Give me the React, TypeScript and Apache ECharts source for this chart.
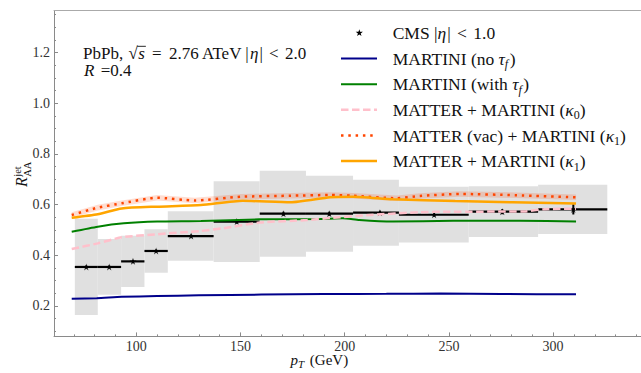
import React, { useEffect, useRef } from "react";
import * as echarts from "echarts";

const FONT = '"Liberation Serif", "DejaVu Serif", serif';

// ---- CMS data (|eta| < 1.0) ----
const cmsEdges = [70.5, 81.5, 92.7, 103.9, 115.1, 137.1, 159.2, 181.4, 204, 226, 259.5, 292.8, 326];
const cmsCenters = [76, 87, 98.4, 109.5, 126.3, 148.2, 170.6, 192.6, 216.9, 242.9, 275.6, 309.7];
const cmsValues = [0.354, 0.354, 0.376, 0.417, 0.476, 0.533, 0.564, 0.564, 0.568, 0.56, 0.572, 0.581];
const cmsSys = [0.19, 0.11, 0.101, 0.086, 0.098, 0.159, 0.17, 0.15, 0.13, 0.11, 0.1, 0.097];
const cmsStat = [0.006, 0.006, 0.006, 0.006, 0.006, 0.008, 0.008, 0.008, 0.008, 0.008, 0.01, 0.02];

// ---- MARTINI (no tau_f) ----
const ptNoTau = [69, 81, 93, 110, 130, 160, 190, 220, 246, 275, 311];
const raaNoTau = [0.229, 0.231, 0.236, 0.239, 0.242, 0.245, 0.247, 0.248, 0.249, 0.247, 0.246];

// ---- MARTINI (with tau_f) ----
const ptTau = [69, 81.5, 94, 110, 131, 159, 188, 199, 207, 223, 252, 284, 311];
const raaTau = [0.493, 0.513, 0.526, 0.533, 0.535, 0.542, 0.543, 0.546, 0.539, 0.533, 0.536, 0.536, 0.533];

// ---- MATTER + MARTINI (kappa0) ----
const ptK0 = [69, 81.5, 93, 110, 131, 142, 159, 182, 193, 212, 236, 250, 286, 296, 311];
const raaK0 = [0.425, 0.447, 0.471, 0.483, 0.496, 0.507, 0.529, 0.539, 0.547, 0.559, 0.57, 0.572, 0.573, 0.582, 0.584];

// ---- MATTER (vac) + MARTINI (kappa1) ----
const ptVac = [69, 81.5, 93, 110, 128, 150, 174, 193, 204, 225, 236, 255, 282, 311];
const raaVac = [0.559, 0.588, 0.605, 0.627, 0.616, 0.631, 0.635, 0.638, 0.635, 0.625, 0.634, 0.642, 0.637, 0.629];
const raaVacLow = [0.548, 0.577, 0.594, 0.616, 0.605, 0.62, 0.624, 0.627, 0.624, 0.614, 0.623, 0.631, 0.626, 0.618];
const raaVacHigh = [0.57, 0.599, 0.616, 0.638, 0.627, 0.642, 0.646, 0.649, 0.646, 0.636, 0.645, 0.653, 0.648, 0.64];

// ---- MATTER + MARTINI (kappa1) ----
const ptK1 = [69, 81.5, 93, 110, 131, 151, 174, 193, 204, 223, 253, 311];
const raaK1 = [0.548, 0.562, 0.585, 0.592, 0.598, 0.615, 0.609, 0.629, 0.631, 0.621, 0.614, 0.604];

// ---- ticks ----
const xMajor = [100, 150, 200, 250, 300];
const xMinor = [60, 70, 80, 90, 110, 120, 130, 140, 160, 170, 180, 190, 210, 220, 230, 240, 260, 270, 280, 290, 310, 320, 330, 340];
const yMajor = [0.2, 0.4, 0.6, 0.8, 1.0, 1.2];
const yMinor = [0.1, 0.15, 0.25, 0.3, 0.35, 0.45, 0.5, 0.55, 0.65, 0.7, 0.75, 0.85, 0.9, 0.95, 1.05, 1.1, 1.15, 1.25, 1.3, 1.35];

const STAR_PATH =
  "path://M0,-1L0.2245,-0.309L0.951,-0.309L0.363,0.118L0.588,0.809L0,0.382L-0.588,0.809L-0.363,0.118L-0.951,-0.309L-0.2245,-0.309Z";
const STAR_PTS = [
  [0, -1], [0.2245, -0.309], [0.951, -0.309], [0.363, 0.118], [0.588, 0.809],
  [0, 0.382], [-0.588, 0.809], [-0.363, 0.118], [-0.951, -0.309], [-0.2245, -0.309],
];

type Part = { t: string; it?: boolean; s?: number; dy?: number; hold?: boolean; gap?: number };

let ctx: CanvasRenderingContext2D | null = null;
function measure(t: string, size: number, italic: boolean) {
  if (!ctx) ctx = document.createElement("canvas").getContext("2d");
  if (!ctx) return t.length * size * 0.5;
  ctx.font = `${italic ? "italic " : ""}${size}px ${FONT}`;
  return ctx.measureText(t).width;
}

function run(x0: number, yb: number, parts: Part[], size: number, fill = "#111") {
  const els: any[] = [];
  let x = x0;
  for (const p of parts) {
    const s = p.s ?? size;
    const w = measure(p.t, s, !!p.it);
    els.push({
      type: "text",
      x,
      y: yb + (p.dy || 0) - 0.34 * s,
      silent: true,
      style: {
        text: p.t,
        fontSize: s,
        fontFamily: FONT,
        fontStyle: p.it ? "italic" : "normal",
        fill,
        align: "left",
        verticalAlign: "middle",
      },
    });
    if (!p.hold) x += w + (p.gap || 0);
  }
  return { els, x };
}

function zip(xs: number[], ys: number[]) {
  return xs.map((x, i) => [x, ys[i]]);
}

function lineSeries(name: string, xs: number[], ys: number[], color: string, width: number, dash: any, cap = "butt") {
  return {
    type: "line",
    name,
    data: zip(xs, ys),
    showSymbol: false,
    symbol: "none",
    smooth: 0.2,
    lineStyle: { color, width, type: dash, cap },
    z: 5,
  };
}

function buildGraphic() {
  const g: any[] = [];
  const LS = 17;
  const LG = 17.5;
  const SUB = 12;
  // annotation
  const a1 = run(83, 58.9, [
    { t: "PbPb, ", gap: 1 },
    { t: "√", gap: 0.5 },
    { t: "s", it: true, gap: 3 },
    { t: " = ", gap: 3 },
    { t: "2.76 ATeV |" },
    { t: "η", it: true, gap: 1 },
    { t: "| ", gap: 2 },
    { t: "< ", gap: 2 },
    { t: "2.0" },
  ], LS);
  g.push(...a1.els);
  // overline for sqrt
  {
    const xs = 83 + measure("PbPb, ", LS, false) + 1 + measure("√", LS, false) - 0.5;
    const xe = xs + measure("s", LS, true) + 2;
    const yl = 58.9 - 0.74 * LS;
    g.push({ type: "line", silent: true, shape: { x1: xs, y1: yl, x2: xe, y2: yl }, style: { stroke: "#111", lineWidth: 0.9 } });
  }
  const a2 = run(84, 76.1, [{ t: "R", it: true, gap: 2 }, { t: " =0.4" }], LS);
  g.push(...a2.els);

  // legend
  const rows = [33, 58.6, 84.2, 109.8, 135.4, 161];
  const tx = 392.7;
  const lx1 = 341, lx2 = 377;
  const labels: Part[][] = [
    [{ t: "CMS |" }, { t: "η", it: true, gap: 1 }, { t: "| ", gap: 2 }, { t: "< ", gap: 2 }, { t: "1.0" }],
    [{ t: "MARTINI (no " }, { t: "τ", it: true }, { t: "f", it: true, s: SUB, dy: 3.5, gap: 1.5 }, { t: ")" }],
    [{ t: "MARTINI (with " }, { t: "τ", it: true }, { t: "f", it: true, s: SUB, dy: 3.5, gap: 1.5 }, { t: ")" }],
    [{ t: "MATTER + MARTINI (" }, { t: "κ", it: true }, { t: "0", s: SUB, dy: 3.5 }, { t: ")" }],
    [{ t: "MATTER (vac) + MARTINI (" }, { t: "κ", it: true }, { t: "1", s: SUB, dy: 3.5 }, { t: ")" }],
    [{ t: "MATTER + MARTINI (" }, { t: "κ", it: true }, { t: "1", s: SUB, dy: 3.5 }, { t: ")" }],
  ];
  labels.forEach((parts, i) => {
    g.push(...run(tx, rows[i] + 6.2, parts, LG).els);
  });
  // star
  const sx = 359.3, sy = rows[0], sr = 3.8;
  g.push({
    type: "polygon",
    silent: true,
    shape: { points: STAR_PTS.map(([px, py]) => [sx + px * sr, sy + py * sr]) },
    style: { fill: "#000" },
  });
  const styles = [
    { stroke: "#00008b", lineWidth: 2, lineDash: null },
    { stroke: "#008000", lineWidth: 2, lineDash: null },
    { stroke: "#ffc0cb", lineWidth: 2.5, lineDash: [7.5, 3.5] },
    { stroke: "#ff4500", lineWidth: 2.5, lineDash: [2.5, 4.8] },
    { stroke: "#ffa500", lineWidth: 2.5, lineDash: null },
  ];
  styles.forEach((st, i) => {
    g.push({
      type: "line",
      silent: true,
      shape: { x1: lx1, y1: rows[i + 1], x2: lx2, y2: rows[i + 1] },
      style: { stroke: st.stroke, lineWidth: st.lineWidth, lineDash: st.lineDash || undefined, lineCap: "butt" },
    });
  });

  // x axis title
  g.push(...run(290.5, 365, [
    { t: "p", it: true },
    { t: "T", it: true, s: 11, dy: 3, gap: 2 },
    { t: " (GeV)" },
  ], 15).els);

  // y axis title (rotated)
  const yl = run(0, 0, [
    { t: "R", it: true, s: 16, gap: 0.5 },
    { t: "jet", s: 10.5, dy: -5.5, hold: true },
    { t: "AA", s: 10.5, dy: 4.5 },
  ], 16);
  g.push({ type: "group", x: 27, y: 187, rotation: Math.PI / 2, silent: true, children: yl.els });
  return g;
}

export default function App() {
  const ref = useRef<HTMLDivElement>(null);
  useEffect(() => {
    if (!ref.current) return;
    const chart = echarts.init(ref.current, undefined, { renderer: "svg" });
    const axisColor = "#8a8a8a";
    const tickLabel = { color: "#333", fontSize: 14, fontFamily: FONT };
    const cmsData = cmsCenters.map((c, i) => [cmsEdges[i], cmsEdges[i + 1], cmsValues[i], cmsSys[i], cmsStat[i], c]);

    const option: any = {
      animation: false,
      backgroundColor: "#fff",
      grid: { left: 54, top: 10.7, width: 592.9, height: 325.7, containLabel: false, outerBoundsMode: "none" },
      xAxis: [
        {
          type: "value", min: 60.5, max: 345, position: "bottom",
          axisLine: { show: true, lineStyle: { color: axisColor, width: 1 } },
          axisTick: { show: true, inside: true, length: 4, customValues: xMajor, lineStyle: { color: axisColor } },
          axisLabel: { ...tickLabel, margin: 3, customValues: xMajor },
          splitLine: { show: false },
        },
        {
          type: "value", min: 60.5, max: 345, position: "bottom", offset: 0,
          axisLine: { show: false },
          axisTick: { show: true, inside: true, length: 2, customValues: xMinor, lineStyle: { color: axisColor } },
          axisLabel: { show: false },
          splitLine: { show: false },
        },
        {
          type: "value", min: 60.5, max: 345, position: "top", offset: 0,
          axisLine: { show: true, lineStyle: { color: "#aaaaaa", width: 1 } },
          axisTick: { show: false },
          axisLabel: { show: false },
          splitLine: { show: false },
        },
      ],
      yAxis: [
        {
          type: "value", min: 0.08, max: 1.365, position: "left",
          axisLine: { show: true, lineStyle: { color: axisColor, width: 1 } },
          axisTick: { show: true, inside: true, length: 4, customValues: yMajor, lineStyle: { color: axisColor } },
          axisLabel: { ...tickLabel, margin: 4, customValues: yMajor, formatter: (v: number) => v.toFixed(1) },
          splitLine: { show: false },
        },
        {
          type: "value", min: 0.08, max: 1.365, position: "left", offset: 0,
          axisLine: { show: false },
          axisTick: { show: true, inside: true, length: 2, customValues: yMinor, lineStyle: { color: axisColor } },
          axisLabel: { show: false },
          splitLine: { show: false },
        },
      ],
      series: [
        {
          type: "custom",
          name: "CMS sys",
          data: cmsData,
          encode: { x: [0, 1], y: [2] },
          z: 1,
          renderItem: (params: any, api: any) => {
            const x0 = api.value(0), x1 = api.value(1), v = api.value(2), s = api.value(3);
            const p0 = api.coord([x0, v + s]);
            const p1 = api.coord([x1, v - s]);
            return {
              type: "rect",
              shape: { x: p0[0], y: p0[1], width: p1[0] - p0[0], height: p1[1] - p0[1] },
              style: { fill: "#e0e0e0" },
            };
          },
        },
        {
          type: "custom",
          name: "band",
          data: [0],
          z: 2,
          renderItem: (params: any, api: any) => {
            const up = ptVac.map((x, i) => api.coord([x, raaVacHigh[i]]));
            const lo = ptVac.map((x, i) => api.coord([x, raaVacLow[i]])).reverse();
            return {
              type: "polygon",
              shape: { points: up.concat(lo) },
              style: { fill: "rgba(255,69,0,0.18)" },
            };
          },
        },
        {
          type: "custom",
          name: "CMS bars",
          data: cmsData,
          encode: { x: [0, 1], y: [2] },
          z: 3,
          renderItem: (params: any, api: any) => {
            const x0 = api.value(0), x1 = api.value(1), v = api.value(2), st = api.value(4), c = api.value(5);
            const a = api.coord([x0, v]);
            const b = api.coord([x1, v]);
            const t = api.coord([c, v + st]);
            const d = api.coord([c, v - st]);
            return {
              type: "group",
              children: [
                { type: "line", shape: { x1: a[0], y1: a[1], x2: b[0], y2: b[1] }, style: { stroke: "#000", lineWidth: 2.2 } },
                { type: "line", shape: { x1: t[0], y1: t[1], x2: d[0], y2: d[1] }, style: { stroke: "#000", lineWidth: 2 } },
              ],
            };
          },
        },
        {
          type: "scatter",
          name: "CMS",
          data: zip(cmsCenters, cmsValues),
          symbol: STAR_PATH,
          symbolSize: 7,
          itemStyle: { color: "#000" },
          z: 4,
        },
        lineSeries("MARTINI (no tau_f)", ptNoTau, raaNoTau, "#00008b", 2, "solid"),
        lineSeries("MARTINI (with tau_f)", ptTau, raaTau, "#008000", 2, "solid"),
        lineSeries("MATTER + MARTINI (k0)", ptK0, raaK0, "#ffc0cb", 2.5, [7.5, 3.5]),
        lineSeries("MATTER (vac) + MARTINI (k1)", ptVac, raaVac, "#ff4500", 2.5, [2.5, 4.8]),
        lineSeries("MATTER + MARTINI (k1)", ptK1, raaK1, "#ffa500", 2.5, "solid"),
      ],
      graphic: buildGraphic(),
    };
    chart.setOption(option);
    return () => chart.dispose();
  }, []);
  return (
    <div style={{ position: "absolute", left: 0, top: 0, width: 641, height: 373, overflow: "hidden", background: "#fff" }}>
      <div ref={ref} style={{ width: 720, height: 373 }} />
    </div>
  );
}
